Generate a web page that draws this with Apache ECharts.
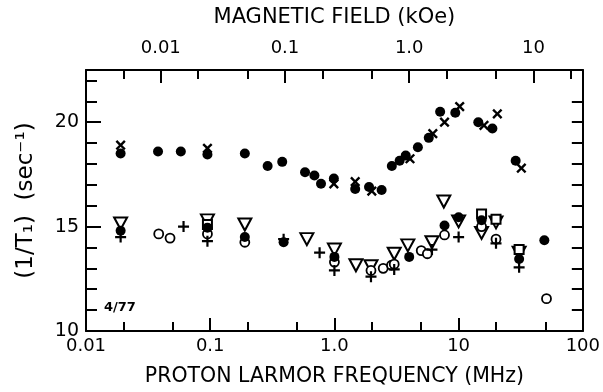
<!DOCTYPE html>
<html>
<head>
<meta charset="utf-8">
<script src="https://cdn.jsdelivr.net/npm/echarts@6/dist/echarts.min.js"></script>
<style>
  html, body { margin: 0; padding: 0; background: #fff; }
  #chart { width: 603px; height: 392px; }
</style>
</head>
<body>
<div id="chart"></div>
<script>
// Proton spin-lattice relaxation rate 1/T1 (sec^-1) against Larmor frequency (MHz).
// Each point is [frequency in MHz, rate in sec^-1].

// Upper branch
const upperDots = [
  [0.019, 18.5], [0.038, 18.6], [0.058, 18.6], [0.095, 18.45], [0.19, 18.5],
  [0.29, 17.9], [0.38, 18.1], [0.58, 17.6], [0.69, 17.45], [0.78, 17.05],
  [0.99, 17.3], [1.47, 16.8], [1.9, 16.9], [2.4, 16.75], [2.9, 17.9],
  [3.35, 18.15], [3.75, 18.4], [4.7, 18.8], [5.75, 19.25], [7.1, 20.5],
  [9.4, 20.45], [14.4, 20.0], [18.7, 19.7], [28.8, 18.15], [49, 14.35]
];
const upperCrosses = [
  [0.019, 18.9], [0.095, 18.75], [0.99, 17.05], [1.47, 17.15], [2.0, 16.7],
  [4.06, 18.25], [6.2, 19.45], [7.7, 20.0], [10.2, 20.75], [16, 19.85],
  [20.5, 20.4], [32, 17.8]
];

// Lower branch
const lowerTriangles = [
  [0.019, 15.15], [0.095, 15.3], [0.19, 15.1], [0.6, 14.4], [1.0, 13.9],
  [1.49, 13.15], [1.97, 13.1], [3.03, 13.7], [3.9, 14.1], [6.1, 14.25],
  [7.6, 16.2], [10, 15.25], [15.3, 14.7], [20, 15.2], [30.7, 13.75]
];
const lowerSquares = [
  [0.095, 15.1], [15.3, 15.6], [20, 15.35], [30.7, 13.9]
];
const lowerRings = [
  [0.0385, 14.65], [0.0475, 14.45], [0.095, 14.65], [0.19, 14.25], [1.0, 13.3],
  [1.97, 12.9], [2.47, 13.0], [2.88, 13.15], [3.03, 13.2], [5.0, 13.85],
  [5.6, 13.7], [7.7, 14.6], [15.3, 15.0], [20, 14.4], [51, 11.55]
];
const lowerDots = [
  [0.019, 14.8], [0.095, 14.95], [0.19, 14.5], [0.39, 14.25], [1.0, 13.55],
  [4.0, 13.55], [7.7, 15.05], [10, 15.45], [15.3, 15.3], [30.7, 13.45]
];
const lowerPlus = [
  [0.019, 14.5], [0.061, 15.0], [0.095, 14.3], [0.39, 14.4], [0.76, 13.75],
  [1.0, 12.9], [1.97, 12.6], [3.03, 12.95], [6.1, 13.9], [10, 14.5],
  [20, 14.2], [30.7, 13.05]
];

// Axis ticks and labels
const freqMajor = [0.01, 0.1, 1, 10, 100];
const freqLabels = ['0.01', '0.1', '1.0', '10', '100'];
const freqMinor = [0.02, 0.05, 0.2, 0.5, 2, 5, 20, 50];
const fieldMajor = [0.01, 0.1, 1, 10];
const fieldLabels = ['0.01', '0.1', '1.0', '10'];
const fieldMinor = [0.005, 0.02, 0.05, 0.2, 0.5, 2, 5, 20];
const rateMajor = [10, 15, 20];
const rateMinorLeft = [11, 12, 13, 14, 16, 17, 18, 19, 21, 22];
const rateRight = [11, 12, 13, 14, 15, 16, 17, 18, 19, 20, 21];

const FREQ_MIN = 0.01, FREQ_MAX = 100;
const MHZ_PER_KOE = 4.0;   // proton Larmor frequency per kOe of field

const FONT = 'DejaVu Sans';
const INK = '#000';
const lg = Math.log10;

// Frequency tick axes are laid out in decades (log10 space) over the log data axis
function labelLookup(values, labels) {
  return function (v) {
    for (let i = 0; i < values.length; i++) {
      if (Math.abs(lg(values[i]) - v) < 1e-6) return labels[i];
    }
    return '';
  };
}

const hiddenLine = { show: false, onZero: false };
const solidLine = { show: true, onZero: false, lineStyle: { color: INK, width: 2 } };

function decadeAxis(position, lo, hi, ticks, tickLen, opts) {
  return Object.assign({
    type: 'value',
    position: position,
    min: lg(lo), max: lg(hi),
    gridIndex: 0,
    splitLine: { show: false },
    axisLine: hiddenLine,
    axisTick: {
      show: true, inside: true, length: tickLen,
      customValues: ticks.map(lg),
      lineStyle: { color: INK, width: 2 }
    },
    axisLabel: { show: false }
  }, opts || {});
}

const xAxes = [
  // data axis
  { type: 'log', logBase: 10, min: FREQ_MIN, max: FREQ_MAX, position: 'bottom',
    show: false, axisLine: hiddenLine, splitLine: { show: false } },
  // bottom: frequency, major ticks, labels, name
  decadeAxis('bottom', FREQ_MIN, FREQ_MAX, freqMajor, 13, {
    axisLine: solidLine,
    axisLabel: {
      show: true, customValues: freqMajor.map(lg), margin: 6,
      color: INK, fontFamily: FONT, fontSize: 18,
      formatter: labelLookup(freqMajor, freqLabels)
    },
    name: 'PROTON LARMOR FREQUENCY (MHz)',
    nameLocation: 'middle', nameGap: 35,
    nameTextStyle: { color: INK, fontFamily: FONT, fontSize: 20.5 }
  }),
  // bottom: frequency, minor ticks
  decadeAxis('bottom', FREQ_MIN, FREQ_MAX, freqMinor, 9),
  // top: magnetic field, major ticks, labels, name
  decadeAxis('top', FREQ_MIN / MHZ_PER_KOE, FREQ_MAX / MHZ_PER_KOE, fieldMajor, 13, {
    axisLine: solidLine,
    axisLabel: {
      show: true, customValues: fieldMajor.map(lg), margin: 13,
      color: INK, fontFamily: FONT, fontSize: 18,
      formatter: labelLookup(fieldMajor, fieldLabels)
    },
    name: 'MAGNETIC FIELD (kOe)',
    nameLocation: 'middle', nameGap: 42,
    nameTextStyle: { color: INK, fontFamily: FONT, fontSize: 21 }
  }),
  // top: magnetic field, minor ticks
  decadeAxis('top', FREQ_MIN / MHZ_PER_KOE, FREQ_MAX / MHZ_PER_KOE, fieldMinor, 9)
];

const yAxes = [
  { type: 'value', position: 'left', min: 10, max: 22.5,
    splitLine: { show: false },
    axisLine: solidLine,
    axisTick: { show: true, inside: true, length: 15, customValues: rateMajor,
      lineStyle: { color: INK, width: 2 } },
    axisLabel: { show: true, customValues: rateMajor, margin: 7,
      color: INK, fontFamily: FONT, fontSize: 19 },
    name: '(1/T\u2081)  (sec\u207B\u00B9)',
    nameLocation: 'middle', nameGap: 48,
    nameTextStyle: { color: INK, fontFamily: FONT, fontSize: 23 }
  },
  { type: 'value', position: 'left', min: 10, max: 22.5,
    splitLine: { show: false }, axisLine: hiddenLine,
    axisTick: { show: true, inside: true, length: 11, customValues: rateMinorLeft,
      lineStyle: { color: INK, width: 2 } },
    axisLabel: { show: false }
  },
  { type: 'value', position: 'right', min: 10, max: 22.5,
    splitLine: { show: false },
    axisLine: solidLine,
    axisTick: { show: true, inside: true, length: 11, customValues: rateRight,
      lineStyle: { color: INK, width: 2 } },
    axisLabel: { show: false }
  }
];

const PLUS = 'path://M4,0H6V4H10V6H6V10H4V6H0V4H4Z';

function marks(name, data, symbol, size, style, rotate) {
  return {
    type: 'scatter', name: name, data: data,
    xAxisIndex: 0, yAxisIndex: 0,
    symbol: symbol, symbolSize: size, symbolRotate: rotate || 0,
    itemStyle: style, silent: true, animation: false
  };
}
const openStyle = { color: '#fff', borderColor: INK, borderWidth: 2, opacity: 1 };
const solidStyle = { color: INK, borderWidth: 0, opacity: 1 };

const chart = echarts.init(document.getElementById('chart'), null, { renderer: 'canvas' });
chart.setOption({
  backgroundColor: '#fff',
  animation: false,
  grid: { left: 86, right: 17, top: 70, bottom: 57, containLabel: false },
  xAxis: xAxes,
  yAxis: yAxes,
  graphic: [{
    type: 'text', left: 104, top: 301,
    style: { text: '4/77', font: 'bold 13px "DejaVu Sans"', fill: INK }
  }],
  series: [
    marks('triangles', lowerTriangles, 'triangle', [13, 12], openStyle, 180),
    marks('squares', lowerSquares, 'rect', 9, openStyle),
    marks('rings', lowerRings, 'circle', 9, { color: '#fff', borderColor: INK, borderWidth: 1.8, opacity: 1 }),
    marks('dots (lower)', lowerDots, 'circle', 10, solidStyle),
    marks('plus', lowerPlus, PLUS, 11, solidStyle),
    marks('dots (upper)', upperDots, 'circle', 10, solidStyle),
    marks('crosses', upperCrosses, PLUS, 12, solidStyle, 45)
  ]
});
</script>
</body>
</html>
